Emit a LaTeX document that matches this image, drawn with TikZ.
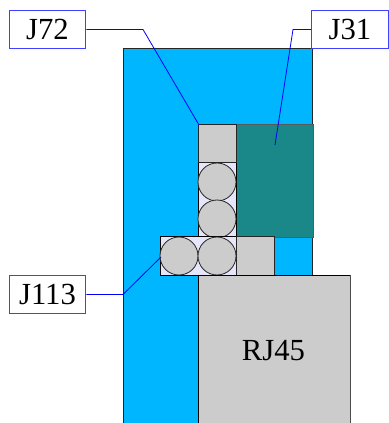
\documentclass[tikz,border=0pt]{standalone}
\usepackage{fontspec}
\setmainfont{Liberation Serif}
\usetikzlibrary{positioning}
\definecolor{boardblue}{HTML}{00B7FF}
\definecolor{jackteal}{HTML}{1A8888}
\definecolor{partgray}{HTML}{CCCCCC}
\definecolor{padlav}{HTML}{E6E6FA}
\definecolor{tagblue}{HTML}{4040FF}
\tikzset{
    part/.style={draw=black!85, fill=partgray, line width=0.75pt},
    pad/.style={draw=black, fill=padlav, line width=0.75pt},
    pin/.style={circle, draw=black!85, fill=partgray, line width=0.6pt, minimum size=28.5pt, inner sep=0pt},
    tag/.style={draw=tagblue, fill=white, line width=0.8pt, minimum width=57.5pt, minimum height=29pt, inner sep=0pt, font=\fontsize{23}{25}\selectfont},
    lead/.style={blue, line width=0.6pt}
}
\begin{document}
\begin{tikzpicture}[x=0.75pt, y=-0.75pt]
        \useasboundingbox (0,0) rectangle (388,423);

        % Placa
        \path[fill=boardblue] (123,49) rectangle (312,423);
        \draw[black!85, line width=0.75pt] (123,423) -- (123,49) -- (312,49) -- (312,275);

        % Conector verde
        \draw[draw=black!65, fill=jackteal, line width=0.75pt] (236,125) rectangle (313,238);

        % Columna de pines
        \draw[pad] (198,163) rectangle (236,237);
        \draw[part] (198,125) rectangle (236,163);
        \node[pin] (pinA) at (217,182) {};
        \node[pin] (pinB) at (217,219) {};

        % Fila de pines
        \draw[pad] (160,237) rectangle (236,275);
        \draw[part] (236,237) rectangle (274,275);
        \node[pin] (pinC) at (179,256) {};
        \node[pin] (pinD) at (217,256) {};

        % RJ45
        \path[fill=partgray] (198,275) rectangle (350,423);
        \draw[black, line width=0.75pt] (198,423) -- (198,275) -- (350,275);
        \draw[black!70, line width=0.75pt] (350,275) -- (350,423);
        \node[font=\fontsize{23}{25}\selectfont] (rj) at (273.5,351) {RJ45};

        % Etiquetas
        \node[tag] (tagA) at (47.5,29.5) {J72};
        \node[tag] (tagB) at (350,29.5) {J31};
        \node[tag] (tagC) at (47.5,294.5) {J113};

        % Puntos de las lineas
        \coordinate (endA) at (199,125);
        \coordinate (endB) at (275,145);
        \coordinate (endC) at (161,257);

        % Lineas
        \draw[lead] (tagA.east) -- (143,29.5) -- (endA);
        \draw[lead] (tagB.west) -- (293,29.5) -- (endB);
        \draw[lead] (tagC.east) -- (123,294.5) -- (endC);
    \end{tikzpicture}
\end{document}
